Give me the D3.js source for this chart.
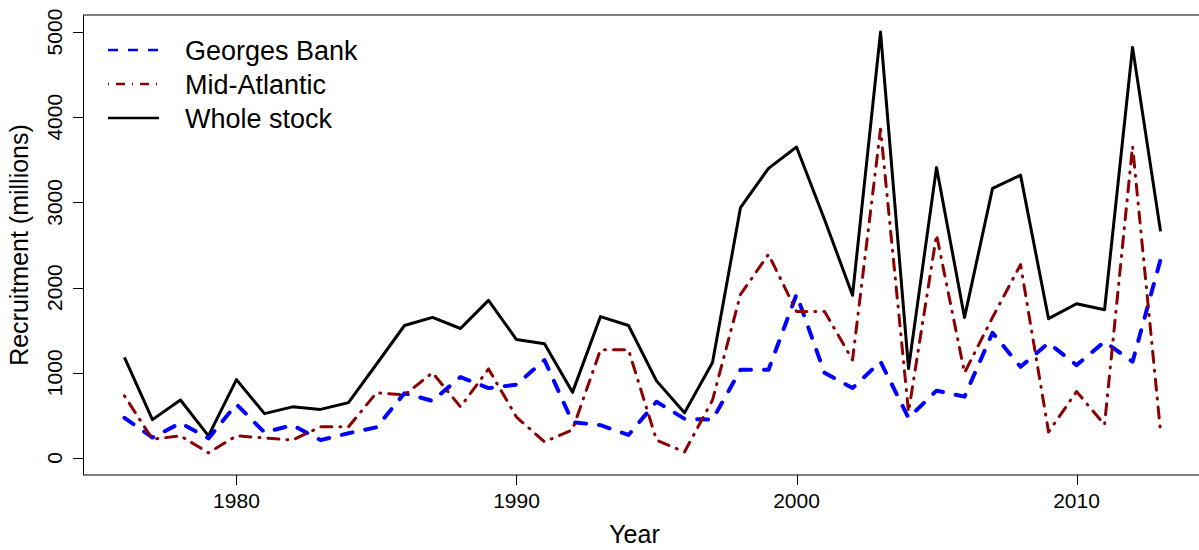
<!DOCTYPE html>
<html>
<head>
<meta charset="utf-8">
<script src="https://cdn.jsdelivr.net/npm/d3@7"></script>
<style>
  body { margin: 0; background: #fff; }
  svg { display: block; font-family: "Liberation Sans", Arial, sans-serif; }
</style>
</head>
<body>
<div id="chart"></div>
<script>
// recruitment estimates (millions)
const years = d3.range(1976, 2014);
const georgesBank = [470, 240, 410, 230, 630, 300, 385, 210, 290, 360,
    760, 670, 950, 820, 860, 1150, 420, 385, 270, 660,
    460, 450, 1035, 1035, 1920, 1000, 820, 1130, 470, 790,
    720, 1470, 1070, 1350, 1090, 1365, 1130, 2330];
const midAtlantic = [730, 220, 260, 60, 260, 235, 210, 365, 365, 765,
    740, 1000, 600, 1045, 480, 190, 330, 1270, 1270, 210,
    70, 680, 1920, 2390, 1720, 1720, 1150, 3860, 540, 2620,
    1000, 1650, 2270, 305, 780, 390, 3660, 305];
const wholeStock = [1180, 450, 680, 260, 920, 520, 600, 570, 650, 1100,
    1555, 1650, 1520, 1850, 1390, 1340, 770, 1660, 1555, 905,
    530, 1120, 2940, 3400, 3650, 2800, 1910, 5000, 1050, 3410,
    1650, 3165, 3320, 1635, 1810, 1740, 4820, 2660];
const xTicks = [1980, 1990, 2000, 2010];
const yTicks = [0, 1000, 2000, 3000, 4000, 5000];
const legendLabels = ["Georges Bank", "Mid-Atlantic", "Whole stock"];

const width = 1199, height = 550;
const plotL = 83, plotT = 15, plotR = 1202, plotB = 475;

const svg = d3.select("#chart").append("svg")
    .attr("width", width)
    .attr("height", height);

// R-style 4% padding around the data range
const xpad = (2013 - 1976) * 0.04, ypad = 5000 * 0.04;
const x = d3.scaleLinear().domain([1976 - xpad, 2013 + xpad]).range([plotL, plotR]);
const y = d3.scaleLinear().domain([-ypad, 5000 + ypad]).range([plotB, plotT]);

// box
svg.append("rect")
    .attr("x", plotL + 0.5).attr("y", plotT)
    .attr("width", plotR - plotL).attr("height", plotB - plotT)
    .attr("fill", "none").attr("stroke", "#000").attr("stroke-width", 1);

// axes
const xAxis = svg.append("g").attr("transform", `translate(0,${plotB})`);
xAxis.selectAll("line").data(xTicks).enter().append("line")
    .attr("x1", d => Math.round(x(d)) + 0.5).attr("x2", d => Math.round(x(d)) + 0.5)
    .attr("y1", 0).attr("y2", 10)
    .attr("stroke", "#000");
xAxis.selectAll("text").data(xTicks).enter().append("text")
    .attr("x", d => x(d)).attr("y", 33)
    .attr("text-anchor", "middle")
    .attr("font-size", 21)
    .text(d => d);

const yAxis = svg.append("g").attr("transform", `translate(${plotL},0)`);
yAxis.selectAll("line").data(yTicks).enter().append("line")
    .attr("x1", -10).attr("x2", 0)
    .attr("y1", d => Math.round(y(d)) + 0.5).attr("y2", d => Math.round(y(d)) + 0.5)
    .attr("stroke", "#000");
yAxis.selectAll("text").data(yTicks).enter().append("text")
    .attr("transform", d => `translate(-21,${y(d)}) rotate(-90)`)
    .attr("text-anchor", "middle")
    .attr("font-size", 21)
    .text(d => d);

// axis titles
svg.append("text")
    .attr("x", (plotL + plotR) / 2 - 8).attr("y", 543)
    .attr("text-anchor", "middle")
    .attr("font-size", 25)
    .text("Year");
svg.append("text")
    .attr("transform", `translate(28,${(plotT + plotB) / 2}) rotate(-90)`)
    .attr("text-anchor", "middle")
    .attr("font-size", 25)
    .text("Recruitment (millions)");

// series
const series = [
    { name: legendLabels[2], values: wholeStock, color: "#000000", width: 3, dash: null, legendDash: null },
    { name: legendLabels[0], values: georgesBank, color: "#0000FF", width: 4, dash: "11,13", legendDash: "10,10" },
    { name: legendLabels[1], values: midAtlantic, color: "#8B0000", width: 3, dash: "1,8,11,8", legendDash: "1,7,9,7" }
];

const line = d3.line()
    .x((d, i) => x(years[i]))
    .y(d => y(d));

svg.selectAll("path.series").data(series).enter().append("path")
    .attr("class", "series")
    .attr("d", d => line(d.values))
    .attr("fill", "none")
    .attr("stroke", d => d.color)
    .attr("stroke-width", d => d.width)
    .attr("stroke-linecap", d => d.dash ? "round" : "butt")
    .attr("stroke-linejoin", "round")
    .attr("stroke-dasharray", d => d.dash);

// legend
const legendOrder = [series[1], series[2], series[0]];
const legend = svg.append("g");
legendOrder.forEach((s, i) => {
    const ly = 50 + i * 34;
    legend.append("line")
        .attr("x1", 108).attr("x2", 159)
        .attr("y1", ly).attr("y2", ly)
        .attr("stroke", s.color)
        .attr("stroke-width", 2.5)
        .attr("stroke-linecap", "butt")
        .attr("stroke-dasharray", s.legendDash);
    legend.append("text")
        .attr("x", 185).attr("y", ly + 10)
        .attr("font-size", 27)
        .text(s.name);
});
</script>
</body>
</html>
